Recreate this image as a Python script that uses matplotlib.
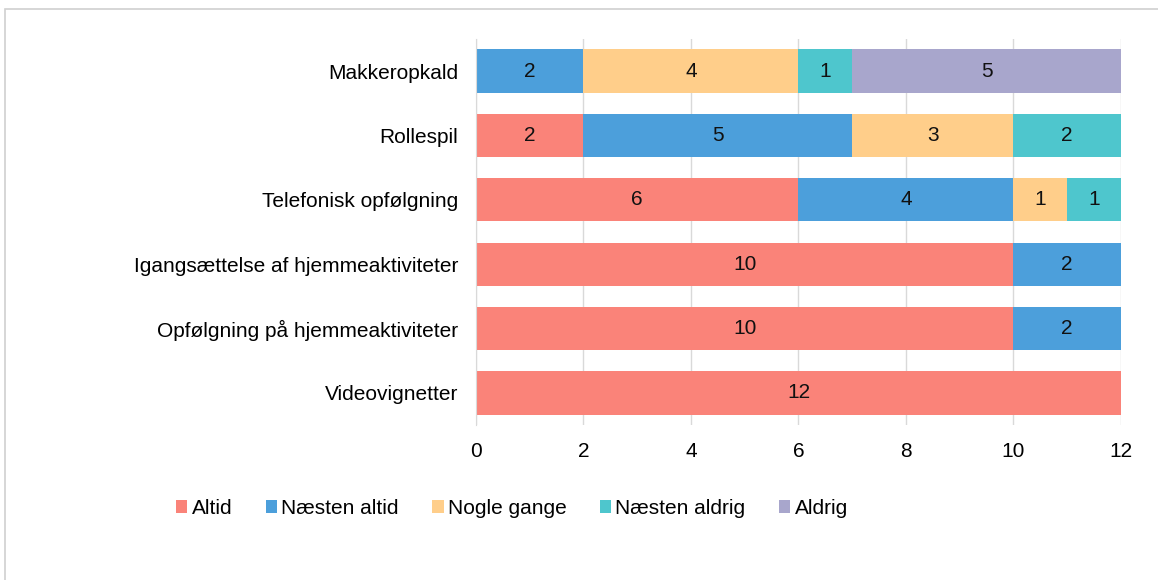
import matplotlib.pyplot as plt
from matplotlib.patches import Rectangle

plt.rcParams['font.family'] = ['Liberation Sans', 'DejaVu Sans']

categories = ["Videovignetter", "Opfølgning på hjemmeaktiviteter",
              "Igangsættelse af hjemmeaktiviteter", "Telefonisk opfølgning",
              "Rollespil", "Makkeropkald"]
series_names = ["Altid", "Næsten altid", "Nogle gange", "Næsten aldrig", "Aldrig"]
altid = [12, 10, 10, 6, 2, 0]
naesten_altid = [0, 2, 2, 4, 5, 2]
nogle_gange = [0, 0, 0, 1, 3, 4]
naesten_aldrig = [0, 0, 0, 1, 2, 1]
aldrig = [0, 0, 0, 0, 0, 5]
colors = ["#FA8379", "#4C9FDB", "#FFCE8A", "#4EC6CD", "#A8A6CC"]

fs = 15

fig = plt.figure(figsize=(11.58, 5.8), dpi=100)
ax = fig.add_axes([0.411, 0.267, 0.557, 0.666])
fig.patches.append(Rectangle((0.004, -0.01), 1.0, 0.995, transform=fig.transFigure,
                             fill=False, edgecolor="#D0D0D0", linewidth=1.2))

y = range(len(categories))
left = [0] * len(categories)
for name, vals, c in zip(series_names, [altid, naesten_altid, nogle_gange, naesten_aldrig, aldrig], colors):
    bars = ax.barh(y, vals, left=left, height=0.67, color=c, label=name, zorder=2)
    for b, v in zip(bars, vals):
        if v > 0:
            ax.text(b.get_x() + b.get_width() / 2, b.get_y() + b.get_height() / 2, str(v),
                    ha="center", va="center", fontsize=fs, color="#111111", zorder=3)
    left = [l + v for l, v in zip(left, vals)]

ax.set_yticks(list(y))
ax.set_yticklabels(categories, fontsize=fs)
ax.set_xlim(0, 12)
ax.set_ylim(-0.5, 5.5)
ax.set_xticks(range(0, 13, 2))
ax.tick_params(axis="x", labelsize=fs, length=0, pad=12)
ax.tick_params(axis="y", length=0, pad=13)
ax.grid(axis="x", color="#D9D9D9", linewidth=1, zorder=0)
for s in ["top", "right", "bottom"]:
    ax.spines[s].set_visible(False)
ax.spines["left"].set_color("#D9D9D9")

ax.legend(loc="center left", bbox_to_anchor=(-0.465, -0.215), ncol=5, frameon=False,
          fontsize=fs, handlelength=0.55, handleheight=0.55, handletextpad=0.2,
          columnspacing=1.6, borderaxespad=0, borderpad=0)

fig.savefig("out.png", dpi=100)
